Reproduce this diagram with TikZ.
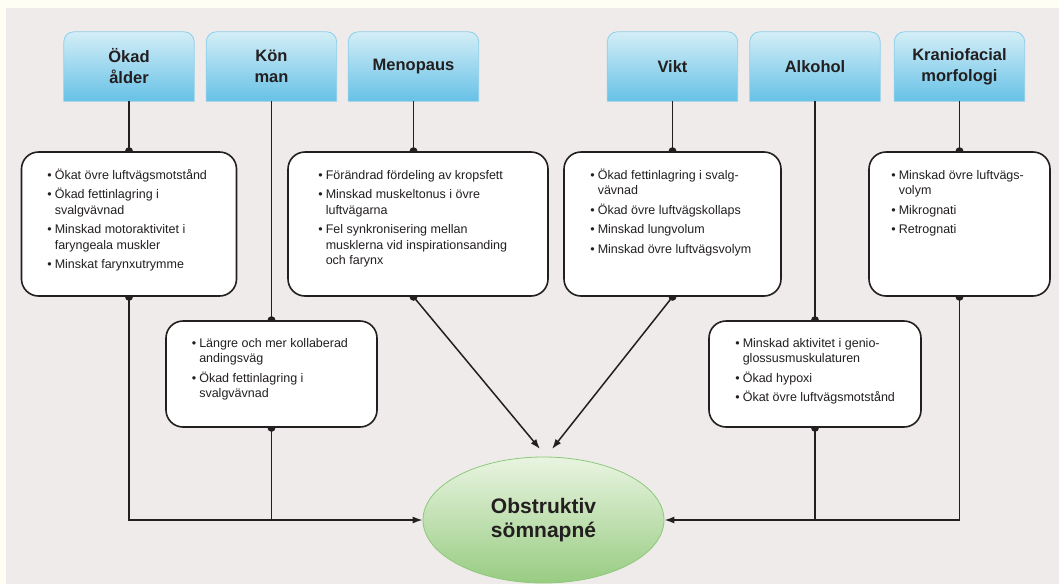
\documentclass[tikz,border=0pt]{standalone}
\usepackage{fontspec}
\setmainfont{Liberation Sans}
\usetikzlibrary{arrows.meta, positioning, backgrounds, shapes.geometric}
\definecolor{pagebg}{HTML}{FFFEF4}
\definecolor{panelbg}{HTML}{EFEBEA}
\definecolor{headtop}{HTML}{D4EEF7}
\definecolor{headbot}{HTML}{66C1E6}
\definecolor{headline}{HTML}{8CCFEA}
\definecolor{osatop}{HTML}{E9F4E1}
\definecolor{osabot}{HTML}{98CC82}
\definecolor{osaline}{HTML}{8DC97B}
\definecolor{ink}{HTML}{231F20}
\newcommand{\bul}{\textbullet}
\newcommand{\itemlist}[1]{\begin{tabular}{@{}l@{\hspace{3pt}}l@{}}#1\end{tabular}}

\begin{document}
\begin{tikzpicture}[
					x=1pt, y=-1pt,
					head/.style={
						minimum width=130pt, minimum height=69pt, inner sep=0pt, align=center,
						font=\fontsize{16.5}{21}\selectfont\bfseries, text=ink
					},
					headbg/.style={top color=headtop, bottom color=headbot, draw=headline, line width=0.8pt},
					listbox/.style={draw=ink, fill=white, line width=1.6pt, rounded corners=17pt, inner sep=0pt},
					listtxt/.style={inner sep=0pt, anchor=north west,
						font=\fontsize{12.5}{15.5}\selectfont, text=ink},
					link/.style={draw=ink, line width=1.5pt},
					arr/.style={link, -{Latex[length=10pt, width=7pt]}},
					osabox/.style={
						ellipse, minimum width=241pt, minimum height=126pt, inner sep=0pt,
						top color=osatop, bottom color=osabot, draw=osaline, line width=0.8pt,
						align=center, font=\fontsize{21}{24}\selectfont\bfseries, text=ink
					}
					]
					\useasboundingbox (0,0) rectangle (1059,584);

					% risk factors
					\node[head] (age) at (129,66.5) {Ökad\\ålder};
					\node[head] (kon) at (271.5,66.5) {Kön\\man};
					\node[head] (meno) at (413.5,66.5) {Menopaus};
					\node[head] (vikt) at (672.5,66.5) {Vikt};
					\node[head] (alk) at (815,66.5) {Alkohol};
					\node[head] (kran) at (959.5,66.5) {Kraniofacial\\morfologi};

					% mechanisms
					\node[listbox, minimum width=215pt, minimum height=144pt,
					below=50pt of age] (ageList) {};
					\node[listbox, minimum width=260pt, minimum height=144pt,
					below=50pt of meno, xshift=4.5pt] (menoList) {};
					\node[listbox, minimum width=217pt, minimum height=144pt,
					below=50pt of vikt] (viktList) {};
					\node[listbox, minimum width=181pt, minimum height=144pt,
					below=50pt of kran] (kranList) {};
					\node[listbox, minimum width=211pt, minimum height=106pt,
					below=219pt of kon] (konList) {};
					\node[listbox, minimum width=212pt, minimum height=106pt,
					below=219pt of alk] (alkList) {};

					\node[listtxt] (ageTxt) at ([xshift=26.5pt, yshift=-17pt]ageList.north west)
					{\itemlist{\bul & Ökat övre luftvägsmotstånd\\[4pt]
							\bul & Ökad fettinlagring i\\ & svalgvävnad\\[4pt]
							\bul & Minskad motoraktivitet i\\ & faryngeala muskler\\[4pt]
							\bul & Minskat farynxutrymme}};
					\node[listtxt] (menoTxt) at ([xshift=31pt, yshift=-17pt]menoList.north west)
					{\itemlist{\bul & Förändrad fördeling av kropsfett\\[4pt]
							\bul & Minskad muskeltonus i övre\\ & luftvägarna\\[4pt]
							\bul & Fel synkronisering mellan\\ & musklerna vid inspirationsanding\\ & och farynx}};
					\node[listtxt] (viktTxt) at ([xshift=27pt, yshift=-17pt]viktList.north west)
					{\itemlist{\bul & Ökad fettinlagring i svalg-\\ & vävnad\\[4pt]
							\bul & Ökad övre luftvägskollaps\\[4pt]
							\bul & Minskad lungvolum\\[4pt]
							\bul & Minskad övre luftvägsvolym}};
					\node[listtxt] (kranTxt) at ([xshift=23pt, yshift=-17pt]kranList.north west)
					{\itemlist{\bul & Minskad övre luftvägs-\\ & volym\\[4pt]
							\bul & Mikrognati\\[4pt]
							\bul & Retrognati}};
					\node[listtxt] (konTxt) at ([xshift=26.5pt, yshift=-16pt]konList.north west)
					{\itemlist{\bul & Längre och mer kollaberad\\ & andingsväg\\[4pt]
							\bul & Ökad fettinlagring i\\ & svalgvävnad}};
					\node[listtxt] (alkTxt) at ([xshift=27pt, yshift=-16pt]alkList.north west)
					{\itemlist{\bul & Minskad aktivitet i genio-\\ & glossusmuskulaturen\\[4pt]
							\bul & Ökad hypoxi\\[4pt]
							\bul & Ökat övre luftvägsmotstånd}};

					% outcome
					\node[osabox] (osa) at (543.5,520) {Obstruktiv\\sömnapné};
					\coordinate (menoTip) at (540,449);
					\coordinate (viktTip) at (552,449);

					\begin{scope}[on background layer]
						\fill[pagebg] (0,0) rectangle (1059,584);
						\fill[panelbg] (6,8) rectangle (1059,584);
						\foreach \h in {age, kon, meno, vikt, alk, kran}
						\path[headbg] (\h.south west) [rounded corners=10pt] -- (\h.north west)
						-- (\h.north east) [sharp corners] -- (\h.south east) -- cycle;

						\foreach \h in {age, kon, meno, vikt, alk, kran} {
							\draw[link] (\h.south) -- (\h.south |- \h List.north);
							\fill[ink] (\h.south |- \h List.north) circle (4pt);
							\fill[ink] (\h.south |- \h List.south) circle (4pt);
						}
						\draw[arr] (ageList.south) |- (osa.west);
						\draw[link] (konList.south) -- (konList.south |- osa.west);
						\draw[arr] (kranList.south) |- (osa.east);
						\draw[link] (alkList.south) -- (alkList.south |- osa.east);
						\draw[arr] (meno.south |- menoList.south) -- (menoTip);
						\draw[arr] (viktList.south) -- (viktTip);
					\end{scope}
				\end{tikzpicture}
\end{document}
